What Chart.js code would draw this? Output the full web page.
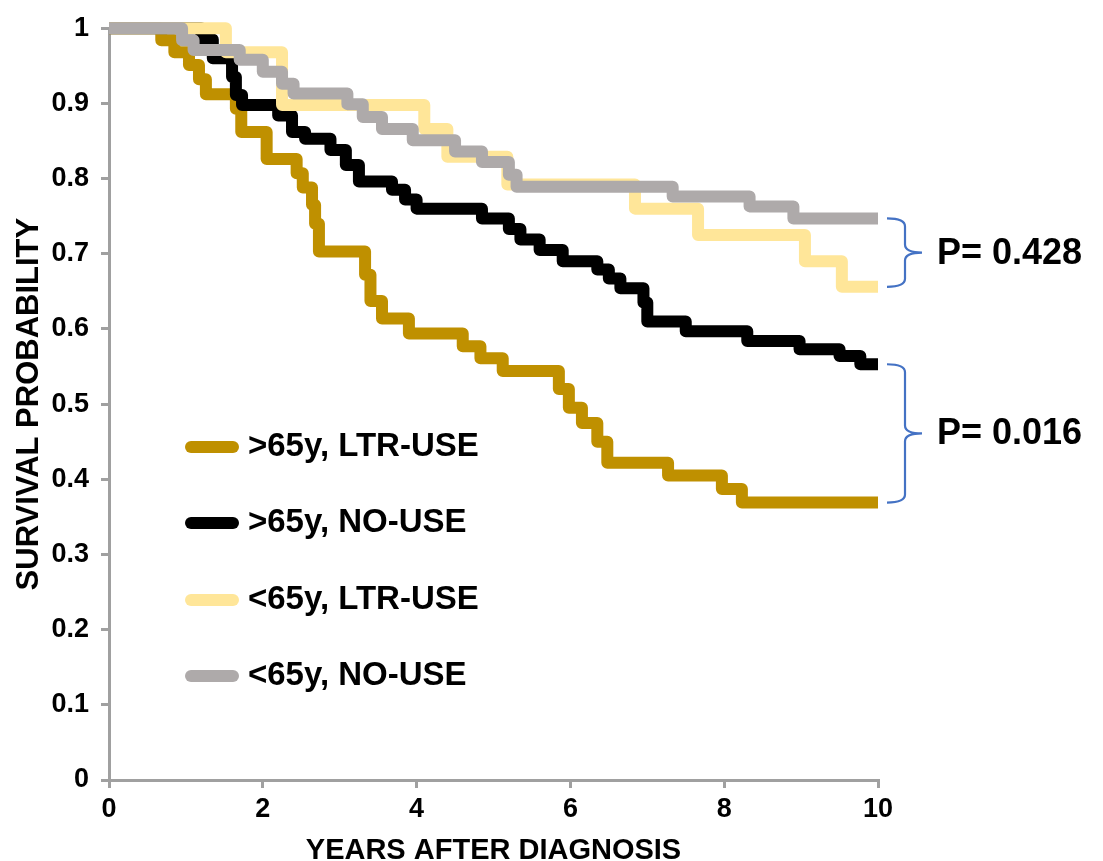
<!DOCTYPE html>
<html>
<head>
<meta charset="utf-8">
<title>Survival probability</title>
<script src="https://cdn.jsdelivr.net/npm/chart.js@4/dist/chart.umd.min.js"></script>
<style>
  html, body { margin: 0; padding: 0; background: #ffffff; }
  #wrap { width: 1103px; height: 861px; }
</style>
</head>
<body>
<div id="wrap"><canvas id="c" width="1103" height="861"></canvas></div>
<script>
// ---------- data ----------
const seriesLabels = ['>65y, LTR-USE', '>65y, NO-USE', '<65y, LTR-USE', '<65y, NO-USE'];
const seriesColors = ['#BF9000', '#000000', '#FFE699', '#AEAAAA'];

const oldLtrYears = [0, 0.68, 0.85, 1.04, 1.17, 1.26, 1.65, 1.72, 2.05, 2.44, 2.52, 2.64, 2.68, 2.73, 3.33, 3.4, 3.55, 3.9, 4.6, 4.83, 5.12, 5.85, 5.98, 6.15, 6.35, 6.48, 7.27, 7.97, 8.23, 10];
const oldLtrSurv  = [1, 0.984, 0.968, 0.951, 0.932, 0.912, 0.893, 0.862, 0.826, 0.807, 0.788, 0.765, 0.74, 0.703, 0.672, 0.637, 0.614, 0.594, 0.577, 0.561, 0.544, 0.52, 0.495, 0.475, 0.45, 0.422, 0.405, 0.387, 0.369, 0.369];

const oldNoYears = [0, 1.2, 1.35, 1.6, 1.65, 1.73, 2.2, 2.38, 2.55, 2.88, 3.08, 3.25, 3.68, 3.85, 4.0, 4.85, 5.2, 5.35, 5.6, 5.9, 6.35, 6.5, 6.65, 6.95, 7.0, 7.5, 8.3, 8.98, 9.5, 9.77, 10];
const oldNoSurv  = [1, 0.985, 0.96, 0.935, 0.911, 0.898, 0.884, 0.862, 0.853, 0.838, 0.818, 0.796, 0.785, 0.772, 0.76, 0.747, 0.733, 0.719, 0.705, 0.69, 0.679, 0.667, 0.654, 0.635, 0.61, 0.597, 0.584, 0.573, 0.564, 0.553, 0.553];

const youngLtrYears = [0, 1.52, 2.25, 4.1, 4.4, 5.18, 6.84, 7.66, 9.05, 9.53, 10];
const youngLtrSurv  = [1, 0.968, 0.898, 0.866, 0.829, 0.792, 0.76, 0.725, 0.69, 0.656, 0.656];

const youngNoYears = [0, 0.95, 1.1, 1.7, 2.0, 2.25, 2.4, 3.1, 3.3, 3.55, 3.95, 4.5, 4.85, 5.2, 5.3, 7.33, 8.33, 8.9, 10];
const youngNoSurv  = [1, 0.984, 0.971, 0.958, 0.942, 0.926, 0.913, 0.899, 0.882, 0.866, 0.851, 0.836, 0.822, 0.805, 0.789, 0.776, 0.763, 0.747, 0.747];

const xTickValues = [0, 2, 4, 6, 8, 10];
const pValueLabels = ['P= 0.428', 'P= 0.016'];
const xTitle = 'YEARS AFTER DIAGNOSIS';
const yTitle = 'SURVIVAL PROBABILITY';

// ---------- chart ----------
const FONT = '"Liberation Sans", Arial, Helvetica, sans-serif';
Chart.defaults.font.family = FONT;
Chart.defaults.color = '#000000';

function pts(xs, ys) { return xs.map((x, i) => ({ x: x, y: ys[i] })); }

const allYears = [oldLtrYears, oldNoYears, youngLtrYears, youngNoYears];
const allSurv = [oldLtrSurv, oldNoSurv, youngLtrSurv, youngNoSurv];
const drawOrder = [3, 2, 1, 0]; // grey on top, as in the reference

const datasets = seriesLabels.map((lab, i) => ({
  label: lab,
  data: pts(allYears[i], allSurv[i]),
  borderColor: seriesColors[i],
  backgroundColor: seriesColors[i],
  borderWidth: 12,
  stepped: true,
  pointRadius: 0,
  fill: false,
  borderJoinStyle: 'round',
  borderCapStyle: 'butt',
  clip: false,
  order: drawOrder[i]
}));

const legendPlugin = {
  id: 'insideLegend',
  afterDatasetsDraw(chart) {
    const ctx = chart.ctx;
    const rows = [447, 523, 600, 676];
    ctx.save();
    seriesLabels.forEach((lab, i) => {
      const y = rows[i];
      ctx.strokeStyle = seriesColors[i];
      ctx.lineWidth = 12;
      ctx.lineCap = 'round';
      ctx.beginPath();
      ctx.moveTo(191, y);
      ctx.lineTo(233, y);
      ctx.stroke();
      ctx.fillStyle = '#000000';
      ctx.font = 'bold 33px ' + FONT;
      ctx.textAlign = 'left';
      ctx.textBaseline = 'middle';
      ctx.fillText(lab, 248, y);
    });
    ctx.restore();
  }
};

function drawBrace(ctx, x, yTop, yBot) {
  const mid = (yTop + yBot) / 2;
  const hook = 18, tip = 17, r = 8;
  ctx.beginPath();
  ctx.moveTo(x - hook, yTop);
  ctx.quadraticCurveTo(x, yTop, x, yTop + r);
  ctx.lineTo(x, mid - r);
  ctx.quadraticCurveTo(x, mid, x + tip, mid);
  ctx.moveTo(x + tip, mid);
  ctx.quadraticCurveTo(x, mid, x, mid + r);
  ctx.lineTo(x, yBot - r);
  ctx.quadraticCurveTo(x, yBot, x - hook, yBot);
  ctx.stroke();
  return mid;
}

const bracePlugin = {
  id: 'braces',
  afterDraw(chart) {
    const ctx = chart.ctx;
    const ys = chart.scales.y;
    const last = a => a[a.length - 1];
    const pairs = [
      [last(youngNoSurv), last(youngLtrSurv)],
      [last(oldNoSurv), last(oldLtrSurv)]
    ];
    ctx.save();
    ctx.strokeStyle = '#4472C4';
    ctx.lineWidth = 2.2;
    pairs.forEach((p, i) => {
      const yT = ys.getPixelForValue(p[0]);
      const yB = ys.getPixelForValue(p[1]);
      const mid = drawBrace(ctx, 905, yT, yB);
      ctx.fillStyle = '#000000';
      ctx.font = 'bold 36px ' + FONT;
      ctx.textAlign = 'left';
      ctx.textBaseline = 'middle';
      ctx.fillText(pValueLabels[i], 937, mid + 1);
    });
    ctx.restore();
  }
};

const axisGrey = '#A0A0A0';

new Chart(document.getElementById('c'), {
  type: 'line',
  data: { datasets: datasets },
  plugins: [legendPlugin, bracePlugin],
  options: {
    responsive: false,
    animation: false,
    devicePixelRatio: 1,
    layout: { padding: { top: 26, right: 225, bottom: 0, left: 0 } },
    plugins: { legend: { display: false }, tooltip: { enabled: false } },
    scales: {
      x: {
        type: 'linear',
        min: 0, max: 10,
        afterBuildTicks(scale) { scale.ticks = xTickValues.map(v => ({ value: v })); },
        afterFit(scale) { scale.height = 81; },
        ticks: {
          font: { size: 27, weight: 'bold' },
          color: '#000000',
          padding: 5,
          maxRotation: 0,
          callback: v => String(v)
        },
        grid: { drawOnChartArea: false, drawTicks: true, tickLength: 8, color: axisGrey, lineWidth: 3 },
        border: { display: true, color: axisGrey, width: 3 },
        title: {
          display: true,
          text: xTitle,
          font: { size: 29, weight: 'bold', lineHeight: 0.66 },
          color: '#000000',
          padding: { top: 0, bottom: 0 }
        }
      },
      y: {
        type: 'linear',
        min: 0, max: 1,
        afterFit(scale) { scale.width = 109; },
        ticks: {
          stepSize: 0.1,
          font: { size: 27, weight: 'bold' },
          color: '#000000',
          padding: 12,
          callback: v => String(+Number(v).toFixed(1))
        },
        grid: { drawOnChartArea: false, drawTicks: true, tickLength: 8, color: axisGrey, lineWidth: 3 },
        border: { display: true, color: axisGrey, width: 3 },
        title: {
          display: true,
          text: yTitle,
          font: { size: 31, weight: 'bold', lineHeight: 1.2 },
          color: '#000000',
          padding: { top: 11, bottom: 0 }
        }
      }
    }
  }
});
</script>
</body>
</html>
